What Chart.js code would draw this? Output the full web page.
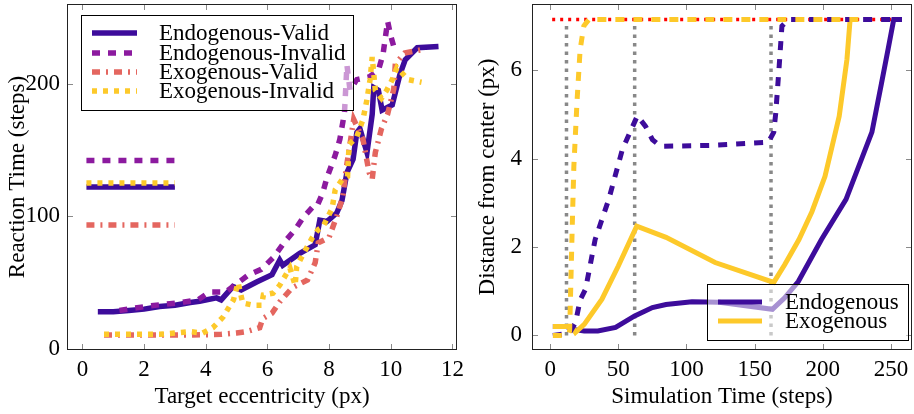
<!DOCTYPE html>
<html>
<head>
<meta charset="utf-8">
<script src="https://cdn.jsdelivr.net/npm/chart.js@4.4.0/dist/chart.umd.min.js"></script>
<style>
  body { margin: 0; background: #fff; width: 914px; height: 414px; overflow: hidden; position: relative; }
  canvas { position: absolute; top: 0; }
  #left { left: 0; }
  #right { left: 466px; }
</style>
</head>
<body>
<canvas id="left" width="466" height="414"></canvas>
<canvas id="right" width="448" height="414"></canvas>
<script>
// ---- left panel: reaction time vs eccentricity ----
const leftXTicks = [0, 2, 4, 6, 8, 10, 12];
const leftYTicks = [0, 100, 200];

const endoValidX = [0.5, 1.0, 1.5, 2.0, 2.5, 3.0, 3.5, 3.8, 4.35, 4.5, 4.88, 5.15, 5.65, 6.15, 6.4, 6.5, 7.05, 7.55, 7.7, 7.93, 8.25, 8.42, 8.58, 8.78, 8.9, 9.0, 9.23, 9.4, 9.45, 9.6, 9.72, 10.05, 10.3, 10.47, 10.86, 11.55];
const endoValidY = [28, 28, 29, 30, 32, 33, 35, 36, 38.5, 37, 47, 44.5, 50.5, 56, 67, 63, 72, 78.5, 97, 96, 102.5, 112, 133, 143, 163, 166, 148, 177, 197, 195, 180, 184, 207, 218, 227, 228];

const endoInvalidX = [1.2, 2.2, 3.2, 3.75, 4.13, 4.65, 5.4, 5.8, 6.2, 6.57, 6.9, 7.16, 7.45, 7.6, 7.8, 7.93, 8.2, 8.35, 8.5, 8.58, 8.68, 8.9, 9.3, 9.6, 9.75, 9.9, 10.0, 10.1];
const endoInvalidY = [29, 32.5, 35, 37, 43, 43, 56, 60, 69, 81, 90, 99, 106.5, 107, 118, 129, 146, 158, 178, 214, 195, 203, 205, 210, 222, 247, 236, 228];

const exoValidX = [0.7, 1.5, 2.5, 3.5, 4.5, 5.0, 5.3, 5.75, 5.85, 6.15, 6.4, 6.8, 7.3, 7.55, 7.65, 8.0, 8.25, 8.45, 8.55, 8.8, 9.1, 9.3, 9.4, 9.5, 9.7, 9.9, 10.1, 10.15, 10.45, 11.1];
const exoValidY = [10.5, 10.5, 10.5, 10.5, 11, 12, 13, 16, 23, 27, 35.5, 46, 52, 65, 80, 84, 100, 115, 135, 173, 158, 133, 128, 148, 166, 177, 196, 215, 223, 226];

const exoInvalidX = [0.7, 1.5, 2.5, 3.5, 3.9, 4.23, 4.56, 4.9, 5.05, 5.2, 5.53, 5.81, 5.87, 6.18, 6.4, 6.73, 6.9, 6.95, 7.15, 7.45, 7.65, 7.8, 8.1, 8.2, 8.42, 8.6, 8.65, 8.9, 9.1, 9.23, 9.33, 9.4, 9.5, 9.7, 9.87, 10.05, 10.2, 10.57, 11.0];
const exoInvalidY = [11, 11, 11, 13, 12, 16, 24, 37, 50, 34.6, 33, 33, 40.7, 42, 48, 61, 48, 62, 71, 83.6, 90, 92, 106, 120, 127.5, 130, 154, 160, 173, 188, 203, 220, 195, 189, 195, 203, 212, 203, 201];

// mean reaction times drawn as short horizontal marks
const meanX = [0.13, 3.0];
const meanEndoValid = 122;
const meanEndoInvalid = 142;
const meanExoValid = 93.5;
const meanExoInvalid = 125;

// ---- right panel: distance from center over time ----
const rightXTicks = [0, 50, 100, 150, 200, 250];
const rightYTicks = [0, 2, 4, 6];

const endoX = [2, 12, 18, 25, 35, 48, 62, 75, 85, 104, 124, 163, 172, 182, 199, 217, 236, 243, 248, 252, 258];
const endoY = [0.2, 0.2, 0.13, 0.1, 0.1, 0.18, 0.44, 0.63, 0.7, 0.76, 0.75, 0.59, 0.85, 1.22, 2.17, 3.08, 4.6, 5.7, 6.5, 7.15, 7.15];

const exoX = [2, 16, 18.6, 25, 38, 50, 63.5, 85, 121, 164, 172, 182.5, 192, 201.6, 212, 217.7, 220];
const exoY = [0.2, 0.2, 0.07, 0.25, 0.82, 1.57, 2.47, 2.22, 1.65, 1.2, 1.6, 2.17, 2.8, 3.6, 4.96, 6.25, 7.15];

const endoDashX = [2, 14, 18.6, 22, 26, 33, 43, 53, 64, 70, 75, 81, 117, 160, 164, 165.5, 168, 170, 175, 258];
const endoDashY = [0.0, 0.05, 0.29, 0.8, 1.05, 2.17, 3.08, 4.21, 4.97, 4.73, 4.43, 4.28, 4.3, 4.37, 4.6, 5.04, 6.1, 7.0, 7.15, 7.15];

const exoDashX = [2, 13, 14.3, 14.9, 16.1, 17.4, 19.8, 22, 24.7, 28.4, 227];
const exoDashY = [0, 0, 0.1, 0.82, 2.33, 3.83, 5.34, 6.47, 7.0, 7.15, 7.15];

const thresholdX = [1.5, 258];
const threshold = 7.15;
const markerTimes = [12, 62, 162];
const markerTop = 7.1;

// ---- styles ----
const PURPLE = "#3d0c9b";
const VIOLET = "#8c1a9f";
const SALMON = "#e4665f";
const YELLOW = "#fdc92a";
const FONT = "'Liberation Serif', serif";
const FONT_SIZE = 23;

Chart.defaults.font.family = FONT;
Chart.defaults.font.size = FONT_SIZE;
Chart.defaults.color = "#000";

function pts(xs, ys) {
  return xs.map((x, i) => ({ x: x, y: Array.isArray(ys) ? ys[i] : ys }));
}

function line(label, xs, ys, color, width, dash) {
  return {
    label: label,
    data: pts(xs, ys),
    borderColor: color,
    borderWidth: width,
    borderDash: dash || [],
    pointRadius: 0,
    tension: 0,
    fill: false,
  };
}

// first dataset at the bottom, like pgfplots
function stack(list) {
  list.forEach((d, i) => (d.order = list.length - i));
  return list;
}

const frame = {
  id: "frame",
  afterDatasetsDraw(chart) {
    const { ctx, chartArea: a, scales } = chart;
    ctx.save();
    ctx.strokeStyle = "#8a8a8a";
    ctx.lineWidth = 1;
    ctx.beginPath();
    scales.x.ticks.forEach((t) => {
      const px = Math.round(scales.x.getPixelForValue(t.value)) + 0.5;
      ctx.moveTo(px, a.bottom);
      ctx.lineTo(px, a.bottom - 6);
      ctx.moveTo(px, a.top);
      ctx.lineTo(px, a.top + 6);
    });
    scales.y.ticks.forEach((t) => {
      const py = Math.round(scales.y.getPixelForValue(t.value)) + 0.5;
      ctx.moveTo(a.left, py);
      ctx.lineTo(a.left + 6, py);
      ctx.moveTo(a.right, py);
      ctx.lineTo(a.right - 6, py);
    });
    ctx.stroke();
    ctx.strokeStyle = "#222";
    ctx.strokeRect(a.left + 0.5, a.top + 0.5, a.width - 1, a.height - 1);
    ctx.restore();
  },
};

const boxLegend = {
  id: "boxLegend",
  afterDraw(chart, args, opts) {
    const { ctx } = chart;
    const [bx, by, bw, bh] = opts.box;
    ctx.save();
    ctx.fillStyle = "rgba(255,255,255,0.55)";
    ctx.fillRect(bx, by, bw, bh);
    ctx.strokeStyle = "#000";
    ctx.lineWidth = 1;
    ctx.strokeRect(bx + 0.5, by + 0.5, bw, bh);
    ctx.font = FONT_SIZE + "px " + FONT;
    ctx.textBaseline = "middle";
    opts.items.forEach((it) => {
      const ds = chart.data.datasets[it.index];
      ctx.beginPath();
      ctx.strokeStyle = ds.borderColor;
      ctx.lineWidth = ds.borderWidth;
      ctx.setLineDash(ds.borderDash);
      ctx.moveTo(opts.sample[0], it.y);
      ctx.lineTo(opts.sample[1], it.y);
      ctx.stroke();
      ctx.setLineDash([]);
      ctx.fillStyle = "#000";
      ctx.fillText(ds.label, opts.textX, it.y + 1);
    });
    ctx.restore();
  },
};

function axes(xmin, xmax, xticks, xtitle, ymin, ymax, yticks, ytitle, yWidth, yPad, yTitlePad) {
  return {
    x: {
      type: "linear",
      min: xmin,
      max: xmax,
      afterBuildTicks: (s) => { s.ticks = xticks.map((v) => ({ value: v })); },
      afterFit: (s) => {
        s.height = 64;
        s.paddingLeft = 0;
        s.paddingRight = 0;
      },
      grid: { display: false, drawTicks: false },
      border: { display: false },
      ticks: { padding: 6, maxRotation: 0, autoSkip: false },
      title: { display: true, text: xtitle, padding: { top: 0, bottom: 3 } },
    },
    y: {
      type: "linear",
      min: ymin,
      max: ymax,
      afterBuildTicks: (s) => { s.ticks = yticks.map((v) => ({ value: v })); },
      afterFit: (s) => {
        s.width = yWidth;
        s.paddingTop = 0;
        s.paddingBottom = 0;
      },
      grid: { display: false, drawTicks: false },
      border: { display: false },
      ticks: { padding: yPad },
      title: { display: true, text: ytitle, padding: { top: yTitlePad, bottom: 0 } },
    },
  };
}

const leftSets = stack([
  line("Endogenous-Valid", endoValidX, endoValidY, PURPLE, 5.5),
  line("Endogenous-Invalid", endoInvalidX, endoInvalidY, VIOLET, 5.5, [8, 8]),
  line("Exogenous-Valid", exoValidX, exoValidY, SALMON, 5.5, [8, 6, 2, 6]),
  line("Exogenous-Invalid", exoInvalidX, exoInvalidY, YELLOW, 5.5, [5, 6]),
  line("mean EV", meanX, meanEndoValid, PURPLE, 5.5),
  line("mean EI", meanX, meanEndoInvalid, VIOLET, 5.5, [8, 8]),
  line("mean XV", meanX, meanExoValid, SALMON, 5.5, [8, 6, 2, 6]),
  line("mean XI", meanX, meanExoInvalid, YELLOW, 5.5, [5, 6]),
]);

new Chart(document.getElementById("left"), {
  type: "line",
  data: { datasets: leftSets },
  options: {
    responsive: false,
    animation: false,
    devicePixelRatio: 1,
    layout: { padding: { top: 4, right: 9, left: 0, bottom: 0 } },
    scales: axes(-0.5, 12.15, leftXTicks, "Target eccentricity (px)",
                 -0.8, 260, leftYTicks, "Reaction Time (steps)", 67, 7, 4),
    plugins: {
      legend: { display: false },
      tooltip: { enabled: false },
      boxLegend: {
        box: [81, 15, 272, 95],
        sample: [92, 137],
        textX: 159,
        items: [
          { index: 0, y: 33 },
          { index: 1, y: 53 },
          { index: 2, y: 72 },
          { index: 3, y: 91 },
        ],
      },
    },
  },
  plugins: [frame, boxLegend],
});

const markerSets = markerTimes.map((t) =>
  line("marker", [t, t], [0, markerTop], "#888888", 3.5, [3.5, 5]));

const rightSets = stack([
  ...markerSets,
  line("threshold", thresholdX, threshold, "#ff0000", 3.5, [3, 5]),
  line("Endogenous", endoX, endoY, PURPLE, 5),
  line("Exogenous", exoX, exoY, YELLOW, 5),
  line("Endogenous invalid", endoDashX, endoDashY, PURPLE, 5, [9, 9]),
  line("Exogenous invalid", exoDashX, exoDashY, YELLOW, 5, [9, 9]),
]);

new Chart(document.getElementById("right"), {
  type: "line",
  data: { datasets: rightSets },
  options: {
    responsive: false,
    animation: false,
    devicePixelRatio: 1,
    layout: { padding: { top: 4, right: 2, left: 0, bottom: 0 } },
    scales: axes(-13.3, 265.4, rightXTicks, "Simulation Time (steps)",
                 -0.33, 7.5, rightYTicks, "Distance from center (px)", 66, 10, 8),
    plugins: {
      legend: { display: false },
      tooltip: { enabled: false },
      boxLegend: {
        box: [241, 284, 201, 56],
        sample: [252, 296],
        textX: 319,
        items: [
          { index: 4, y: 302 },
          { index: 5, y: 321 },
        ],
      },
    },
  },
  plugins: [frame, boxLegend],
});
</script>
</body>
</html>
